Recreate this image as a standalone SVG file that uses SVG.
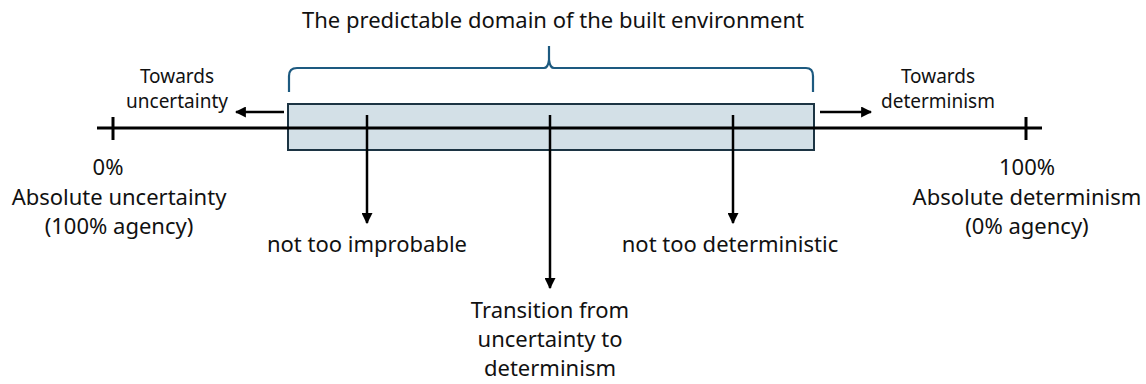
<svg xmlns="http://www.w3.org/2000/svg" width="1146" height="384" viewBox="0 0 1146 384">
<style>
text{font-family:"Noto Sans","Open Sans",sans-serif;fill:#111;text-anchor:middle}
.t{font-size:22px}
.s{font-size:19px}
.ax{stroke:#000;stroke-width:3;fill:none}
.ar{stroke:#000;stroke-width:2.5;fill:none}
</style>
<defs>
<marker id="ah" viewBox="0 0 10 10" refX="9" refY="5" markerWidth="4.4" markerHeight="4.4" orient="auto" markerUnits="strokeWidth">
<path d="M0,0 L10,5 L0,10 z" fill="#000"/>
</marker>
</defs>
<g id="domain">
<rect x="288" y="104" width="526" height="46" fill="#d3e0e7" stroke="#1c3443" stroke-width="2"/>
</g>
<g id="axis">
<line class="ax" x1="97" y1="128" x2="1042" y2="128"/>
<line class="ax" x1="113" y1="117" x2="113" y2="140"/>
<line class="ax" x1="1026" y1="117" x2="1026" y2="140"/>
</g>
<g id="brace">
<path d="M289,92 L289,76 Q289,68 297,68 L544,68 Q548,68 549,60 L549,46 L549,60 Q550,68 554,68 L806,68 Q813,68 813,76 L813,92" fill="none" stroke="#1d5a80" stroke-width="2.2"/>
<text class="t" x="553" y="28">The predictable domain of the built environment</text>
</g>
<g id="connectors">
<line class="ar" x1="284" y1="112" x2="236" y2="112" marker-end="url(#ah)"/>
<line class="ar" x1="820" y1="112" x2="871" y2="112" marker-end="url(#ah)"/>
<line class="ar" x1="367" y1="115" x2="367" y2="223" marker-end="url(#ah)"/>
<line class="ar" x1="550" y1="115" x2="550" y2="288" marker-end="url(#ah)"/>
<line class="ar" x1="733" y1="115" x2="733" y2="223" marker-end="url(#ah)"/>
</g>
<g id="towards-uncertainty">
<text class="s" x="177" y="83">Towards</text>
<text class="s" x="177" y="108">uncertainty</text>
</g>
<g id="towards-determinism">
<text class="s" x="938" y="83">Towards</text>
<text class="s" x="938" y="108">determinism</text>
</g>
<g id="left-end">
<text class="t" x="108" y="175">0%</text>
<text class="t" x="119" y="205">Absolute uncertainty</text>
<text class="t" x="119" y="234">(100% agency)</text>
</g>
<g id="right-end">
<text class="t" x="1027" y="175">100%</text>
<text class="t" x="1027" y="205">Absolute determinism</text>
<text class="t" x="1027" y="234">(0% agency)</text>
</g>
<g id="improbable">
<text class="t" x="367" y="252">not too improbable</text>
</g>
<g id="deterministic">
<text class="t" x="730" y="252">not too deterministic</text>
</g>
<g id="transition">
<text class="t" x="550" y="318">Transition from</text>
<text class="t" x="550" y="347">uncertainty to</text>
<text class="t" x="550" y="376">determinism</text>
</g>
</svg>
